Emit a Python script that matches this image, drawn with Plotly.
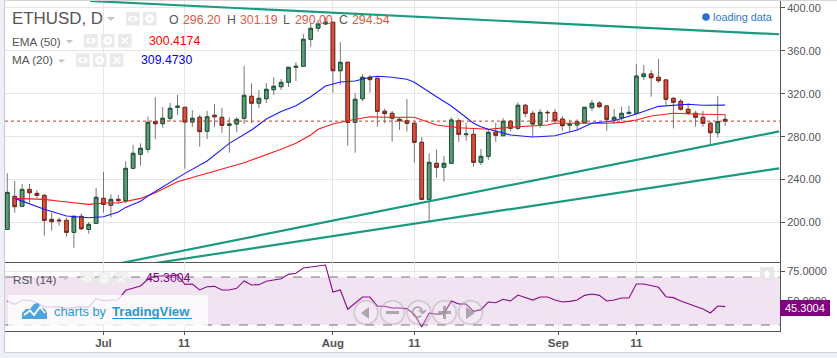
import plotly.graph_objects as go

W, H = 837, 358

# ---- data ----
HIGH = [245.9,238.7,235.9,235.9,230.3,226.6,209.2,204.5,204.5,206.7,208.5,200.5,232.2,247.1,226.3,225.6,257.0,272.3,273.8,298.6,316.8,307.7,311.4,318.9,307.6,304.9,300.2,304.0,310.5,306.8,298.1,298.1,345.9,329.8,323.5,330.1,335.4,333.8,345.0,349.4,375.8,386.0,388.8,391.6,387.0,368.0,349.7,320.5,338.2,337.5,334.7,306.1,304.0,298.1,315.2,294.0,279.5,264.5,268.2,262.0,298.1,297.2,293.1,287.2,268.5,286.2,292.8,297.4,295.6,312.1,310.5,304.2,305.8,304.6,305.8,299.3,296.0,296.2,307.7,314.2,313.0,309.6,305.8,308.0,308.9,347.8,346.9,342.2,352.4,333.8,316.8,315.2,311.1,304.2,304.0,294.0,317.9,301.19]
LOW = [193.6,209.2,214.8,218.5,222.5,187.7,192.4,197.0,186.8,176.5,193.0,189.6,199.2,209.2,204.8,217.9,217.9,250.5,253.0,265.1,277.9,288.4,294.6,300.2,250.2,289.0,270.7,277.9,289.0,283.7,265.1,284.4,291.8,292.8,306.8,311.4,318.9,323.5,326.4,331.9,345.3,363.9,377.9,384.2,321.0,328.5,271.6,265.1,313.3,321.0,289.3,292.5,275.3,286.2,284.7,255.8,221.6,200.2,241.8,238.1,255.2,275.1,276.3,252.0,253.6,258.3,275.1,280.9,285.3,286.2,298.1,279.7,288.1,294.0,292.5,285.6,284.4,285.6,293.1,304.2,306.8,285.6,291.8,294.9,301.2,301.2,332.9,317.3,330.4,309.3,287.8,304.2,300.2,289.3,289.3,272.3,279.1,290.00]
OPEN = [193.6,224.4,215.1,230.9,227.2,225.3,203.0,202.3,202.0,190.8,205.8,193.6,199.2,222.5,216.0,221.6,220.4,250.5,263.6,268.2,294.0,292.1,297.2,307.4,307.4,293.7,298.1,285.0,300.0,298.1,290.6,291.8,297.2,317.7,311.2,315.4,323.8,326.6,330.7,344.7,345.6,370.8,381.1,385.1,386.7,341.5,349.4,293.4,315.4,335.4,334.5,303.7,301.8,296.2,294.9,292.5,274.8,221.6,255.2,251.5,255.2,294.9,281.9,282.2,256.1,261.7,284.4,280.9,294.4,287.8,309.3,301.8,291.6,302.7,302.7,296.5,290.6,290.9,293.1,307.0,311.4,308.6,295.6,297.4,301.5,301.8,336.0,338.5,335.4,332.9,315.8,313.0,305.6,301.8,298.1,292.5,283.7,296.20]
CLOSE = [228.1,214.8,230.9,227.8,225.3,202.0,200.8,201.7,190.8,205.8,194.2,198.3,223.5,216.9,221.6,220.4,250.5,264.5,269.2,293.4,292.1,297.2,306.5,308.4,293.7,297.2,284.7,298.6,298.6,290.6,291.8,296.2,318.6,311.2,315.8,324.2,327.0,330.7,344.7,345.6,370.8,381.1,385.1,386.7,341.5,349.4,293.4,314.9,335.4,333.2,303.7,301.5,297.2,294.9,292.5,274.8,221.6,256.1,251.5,255.2,295.6,282.2,282.5,256.1,261.7,284.1,281.3,294.4,287.8,309.3,301.8,291.8,302.7,302.4,294.9,290.3,291.8,294.0,307.4,311.2,308.0,296.2,298.1,301.8,302.7,336.6,338.5,335.0,332.2,314.9,312.1,305.6,301.8,298.1,292.5,283.7,294.0,294.54]
RSI = [50.0,47.2,50.8,50.6,48.3,45.3,45.0,45.3,43.9,44.4,45.3,44.7,51.9,50.3,50.6,51.1,58.9,60.8,62.5,68.1,70.8,70.8,70.8,71.7,63.9,64.2,59.2,61.9,62.2,59.2,59.2,60.6,66.7,63.3,63.6,66.4,67.5,68.6,72.2,73.1,77.5,78.3,79.2,80.0,57.5,59.2,43.1,48.1,53.3,53.3,45.8,45.6,44.2,44.2,43.6,38.9,28.3,40.0,38.9,39.4,50.0,47.5,47.5,41.4,42.8,49.2,48.6,51.4,50.0,55.0,52.8,50.8,53.3,53.3,50.8,49.2,49.7,50.8,54.7,55.8,54.7,50.0,50.8,52.5,52.5,64.2,64.2,62.5,61.4,53.6,52.8,50.0,47.8,46.1,43.3,40.0,45.8,45.3]
INDEX = list(range(len(CLOSE)))

MA_X = [1,3,5,8,11,13,15,16,18,19,21,24,27,30,33,35,37,39,41,43,45,47,49,50,52,54,55,56,58,60,61,63,64,65,66,68,71,74,77,79,82,85,88,89,92,94,97]
MA_Y = [222.5,217.3,212.3,206.1,204.5,205.4,209.8,214.1,219.8,224.7,233.4,245.8,257.3,273.8,286.2,296.5,303.5,308.9,317.3,327.3,331.0,331.9,335.4,336.3,335.4,333.5,330.7,326.1,317.3,308.6,303.3,292.5,289.3,286.9,285.3,281.6,279.7,280.9,286.3,292.5,294.9,301.2,308.3,308.9,310.2,309.3,309.47]
EMA_X = [1,5,8,11,13,15,18,20,23,27,32,37,39,41,42,44,46,49,51,55,58,61,65,69,73,74,79,81,83,85,87,90,93,96,97]
EMA_Y = [222.5,221.6,219.1,216.9,218.2,218.2,222.5,227.8,238.1,245.8,255.8,268.3,273.8,281.6,286.9,291.8,294.9,298.6,298.1,298.1,290.9,288.4,286.9,289.3,290.9,292.5,292.5,292.5,293.4,295.6,299.3,301.8,301.2,300.9,300.42]

TREND_A_X, TREND_A_Y = [11.2, 104.3], [406.5, 375.5]
TREND_B_X, TREND_B_Y = [15, 104.3], [161.7, 285.0]
TREND_C_X, TREND_C_Y = [20, 104.3], [162.2, 250.5]

LAST_CLOSE = 294.54
TICK_POS = [13, 23.9, 44, 55, 74.46, 85]
TICK_TXT = ["Jul", "11", "Aug", "11", "Sep", "11"]
PRICE_TICKS = [200, 240, 280, 320, 360, 400]
RSI_TICKS = [50, 75]

# ---- geometry helpers (chrome only) ----
def px(x): return x / W
def py(y): return 1 - y / H
def box(x0, y0, x1, y1, fill, line=None, layer="above", opacity=1):
    return dict(type="rect", xref="paper", yref="paper", x0=px(x0), x1=px(x1), y0=py(y0), y1=py(y1),
                fillcolor=fill, line=dict(width=0 if line is None else 1, color=line or fill), layer=layer, opacity=opacity)
def circ(cx, cy, r, fill, line=None, lw=1, opacity=1, layer="above"):
    return dict(type="circle", xref="paper", yref="paper", x0=px(cx-r), x1=px(cx+r), y0=py(cy-r), y1=py(cy+r),
                fillcolor=fill, line=dict(width=lw if line else 0, color=line or fill), layer=layer, opacity=opacity)
def path(pts, fill=None, line=None, lw=1, opacity=1, close=True):
    d = "M" + " L".join(f"{px(x):.5f},{py(y):.5f}" for x, y in pts) + (" Z" if close else "")
    return dict(type="path", xref="paper", yref="paper", path=d, fillcolor=fill or "rgba(0,0,0,0)",
                line=dict(width=lw if line else 0, color=line or "rgba(0,0,0,0)"), layer="above", opacity=opacity)
def txt(x, y, s, size=12, color="#555", anchor="left", family="Liberation Sans"):
    return dict(xref="paper", yref="paper", x=px(x), y=py(y), text=s, showarrow=False, xanchor=anchor, yanchor="middle",
                font=dict(size=size, color=color, family=family), borderpad=0, borderwidth=0)

shapes, annos = [], []
# page frame
shapes += [box(0, 0, 4.5, H, "#eef0f6", layer="below"), box(0, 352.5, W, H, "#eef0f6", layer="below"),
           box(4, 0, 5, 353, "#c9cbd2", layer="below"), box(4, 352, W, 353, "#d2d4da", layer="below"),
           box(4, 0, W, 1, "#d5d5d5", layer="below")]

# RSI band and guides
shapes.append(dict(type="rect", xref="x2 domain", yref="y2", x0=0, x1=1, y0=30, y1=70,
                   fillcolor="rgba(128,0,128,0.11)", line=dict(width=0), layer="below"))
for lv in (30, 70):
    shapes.append(dict(type="line", xref="x2 domain", yref="y2", x0=0, x1=1, y0=lv, y1=lv,
                       line=dict(color="#7d6a7d", width=1, dash="dash"), layer="above"))

# legend icons
def icon_eye(x, y, s, op=1):
    shapes.append(box(x, y, x+s, y+s, "#e9e9e9", opacity=op))
    shapes.append(dict(type="circle", xref="paper", yref="paper", x0=px(x+2), x1=px(x+s-2), y0=py(y+s/2-3), y1=py(y+s/2+3),
                       fillcolor="#ffffff", line=dict(width=0), layer="above", opacity=op))
    shapes.append(circ(x+s/2, y+s/2, 2, "#e9e9e9", opacity=op))
def icon_gear(x, y, s, op=1):
    shapes.append(box(x, y, x+s, y+s, "#e9e9e9", opacity=op))
    shapes.append(circ(x+s/2, y+s/2, 4.5, "#ffffff", opacity=op))
    shapes.append(circ(x+s/2, y+s/2, 1.6, "#e9e9e9", opacity=op))
def icon_x(x, y, s, op=1):
    shapes.append(box(x, y, x+s, y+s, "#e9e9e9", opacity=op))
    shapes.append(path([(x+3.5, y+3.5), (x+s-3.5, y+s-3.5)], line="#ffffff", lw=1.6, opacity=op, close=False))
    shapes.append(path([(x+s-3.5, y+3.5), (x+3.5, y+s-3.5)], line="#ffffff", lw=1.6, opacity=op, close=False))
def caret(x, y, w=7, h=3.5):
    shapes.append(path([(x, y), (x+w, y), (x+w/2, y+h)], fill="#c4c4c4"))

icon_eye(126, 12, 13.5); icon_gear(143, 12, 13.5); caret(107, 17, 8, 4)
icon_eye(84, 34, 13.5); icon_gear(101, 34, 13.5); icon_x(118, 34, 13.5); caret(66, 40)
icon_eye(76, 53.5, 13.5); icon_gear(93, 53.5, 13.5); icon_x(110, 53.5, 13.5); caret(58, 59.5)
icon_eye(80, 272, 14, .65); icon_gear(97, 272, 14, .65); icon_x(114, 272, 14, .65); caret(62, 277)

OHLC_RED = "#dc5a46"
annos += [txt(11.5, 18.5, "ETHUSD, D", 16.9),
          txt(169, 19.5, "O", 12.3), txt(183, 19.5, f"{OPEN[-1]:.2f}", 12.3, OHLC_RED),
          txt(226.5, 19.5, "H", 12.3), txt(240, 19.5, f"{HIGH[-1]:.2f}", 12.3, OHLC_RED),
          txt(283, 19.5, "L", 12.3), txt(295, 19.5, f"{LOW[-1]:.2f}", 12.3, OHLC_RED),
          txt(338.5, 19.5, "C", 12.3), txt(352, 19.5, f"{CLOSE[-1]:.2f}", 12.3, OHLC_RED),
          txt(12, 41, "EMA (50)", 11.7), txt(149, 41, "300.4174", 12.3, "#ff0000"),
          txt(11.5, 60, "MA (20)", 11.7), txt(141, 60, "309.4730", 12.3, "#0000ff"),
          txt(12.5, 279, "RSI (14)", 11.7), txt(145.5, 278, "45.3004", 12.3, "#800080"),
          txt(713, 17, "loading data", 10.8, "#2f78cf")]
shapes.append(circ(706, 17, 3.8, "#2a70cc"))

# TradingView badge
shapes.append(box(8, 295, 208, 326, "rgba(255,255,255,0.78)"))
shapes.append(path([(22, 319), (22, 313), (26, 309), (30, 309), (34, 304), (38, 303), (41, 307), (45, 309), (47, 313), (47, 319)], fill="#4ea4e0"))
shapes.append(path([(24, 315), (30, 310.5), (34, 315), (40, 307), (45, 313)], line="#ffffff", lw=1.8, close=False))
annos += [txt(54, 311, "charts by", 12.8, "#1f9ad6"),
          txt(112, 311, "<b>TradingView</b>", 13.2, "#1f9ad6")]
shapes.append(path([(112, 318.5), (192, 318.5)], line="#1f9ad6", lw=1, close=False))

# navigation buttons
NAV = [366, 392.5, 419, 444.5, 470.5]
for cx in NAV:
    shapes.append(circ(cx, 312.5, 11.8, "rgba(255,255,255,0.2)", line="rgba(170,170,170,0.42)", lw=2))
G = "rgba(150,150,150,0.8)"
shapes.append(path([(361, 313), (369, 307), (369, 319)], fill=G))
shapes.append(box(386, 311, 399, 314, G))
shapes.append(box(438, 311, 451, 314, G))
shapes.append(box(443, 306, 446, 319, G))
shapes.append(path([(466, 307), (475, 313), (466, 319)], fill=G))
annos.append(txt(419, 312, "⟳", 19, G, "center", "DejaVu Sans"))

# up button + last value tag
shapes.append(box(760, 267, 774, 281, "#e6e6e6"))
shapes.append(path([(767, 270), (771, 274.5), (769, 274.5), (769, 278), (765, 278), (765, 274.5), (763, 274.5)], fill="#ffffff"))
shapes.append(box(780, 300, 830, 316, "#800080"))
annos.append(txt(805, 308, "45.3004", 11, "#ffffff", "center"))

# ---- traces ----
TEAL = "#1c9a80"
body_hi = [max(o, c) for o, c in zip(OPEN, CLOSE)]
body_lo = [min(o, c) for o, c in zip(OPEN, CLOSE)]
fig = go.Figure()
for name, tx, ty in (("Trend A", TREND_A_X, TREND_A_Y), ("Trend B", TREND_B_X, TREND_B_Y), ("Trend C", TREND_C_X, TREND_C_Y)):
    fig.add_trace(go.Scatter(x=tx, y=ty, mode="lines", name=name, line=dict(color=TEAL, width=2.2), xaxis="x", yaxis="y"))
fig.add_trace(go.Candlestick(x=INDEX, open=OPEN, high=HIGH, low=LOW, close=CLOSE, name="Wicks", whiskerwidth=0,
    increasing=dict(line=dict(color="#777777", width=1), fillcolor="#777777"),
    decreasing=dict(line=dict(color="#777777", width=1), fillcolor="#777777"), xaxis="x", yaxis="y"))
fig.add_trace(go.Candlestick(x=INDEX, open=OPEN, high=body_hi, low=body_lo, close=CLOSE, name="ETHUSD", whiskerwidth=0,
    increasing=dict(line=dict(color="#1d5638", width=1), fillcolor="#5c9b78"),
    decreasing=dict(line=dict(color="#7c2418", width=1), fillcolor="#d8503b"), xaxis="x", yaxis="y"))
fig.add_trace(go.Scatter(x=EMA_X, y=EMA_Y, mode="lines", name="EMA (50)", line=dict(color="#ff1a1a", width=1.1), xaxis="x", yaxis="y"))
fig.add_trace(go.Scatter(x=MA_X, y=MA_Y, mode="lines", name="MA (20)", line=dict(color="#1a1aff", width=1.1), xaxis="x", yaxis="y"))
fig.add_trace(go.Scatter(x=INDEX, y=RSI, mode="lines", name="RSI (14)", line=dict(color="#8b0a8b", width=1.1), xaxis="x2", yaxis="y2"))
shapes.append(dict(type="line", xref="x domain", yref="y", x0=0, x1=1, y0=LAST_CLOSE, y1=LAST_CLOSE,
                   line=dict(color="#c0392b", width=1, dash="dot"), layer="above"))

GRID = "#e6e6e6"
AX = "#555555"
xr = [-0.31, 104.41]
common_x = dict(range=xr, type="linear", domain=[px(5), px(780)], tickvals=TICK_POS, showgrid=True, gridcolor=GRID, gridwidth=1,
                zeroline=False, showline=True, linecolor=AX, linewidth=1, fixedrange=True)
fig.update_layout(
    width=W, height=H, margin=dict(l=0, r=0, t=0, b=0), autosize=False,
    paper_bgcolor="#ffffff", plot_bgcolor="#ffffff", showlegend=False, hovermode=False,
    font=dict(family="Liberation Sans", color=AX),
    xaxis=dict(common_x, anchor="y", ticktext=TICK_TXT, showticklabels=False, ticks="", rangeslider=dict(visible=False)),
    xaxis2=dict(common_x, anchor="y2", ticktext=[f"<b>{t}</b>" for t in TICK_TXT], showticklabels=True, ticks="outside", ticklen=3,
                tickcolor=AX, tickfont=dict(size=11.5, color="#555555"), ticklabelstandoff=-2, rangeslider=dict(visible=False)),
    yaxis=dict(domain=[py(262), py(1)], range=[163.2, 406.5], side="right", anchor="x", tickvals=PRICE_TICKS, tickformat=".2f",
               showgrid=True, gridcolor=GRID, zeroline=False, showline=True, linecolor=AX, ticks="outside", ticklen=4, tickcolor=AX,
               tickfont=dict(size=11, color="#555555")),
    yaxis2=dict(domain=[py(331), py(262)], range=[25, 82.5], side="right", anchor="x2", tickvals=RSI_TICKS, tickformat=".4f",
                showgrid=True, gridcolor=GRID, zeroline=False, showline=True, linecolor=AX, ticks="outside", ticklen=4, tickcolor=AX,
                tickfont=dict(size=11, color="#555555")),
    shapes=shapes, annotations=annos,
)
fig.write_html("out.html", post_script="document.body.style.margin='0';", config={"displayModeBar": False})
